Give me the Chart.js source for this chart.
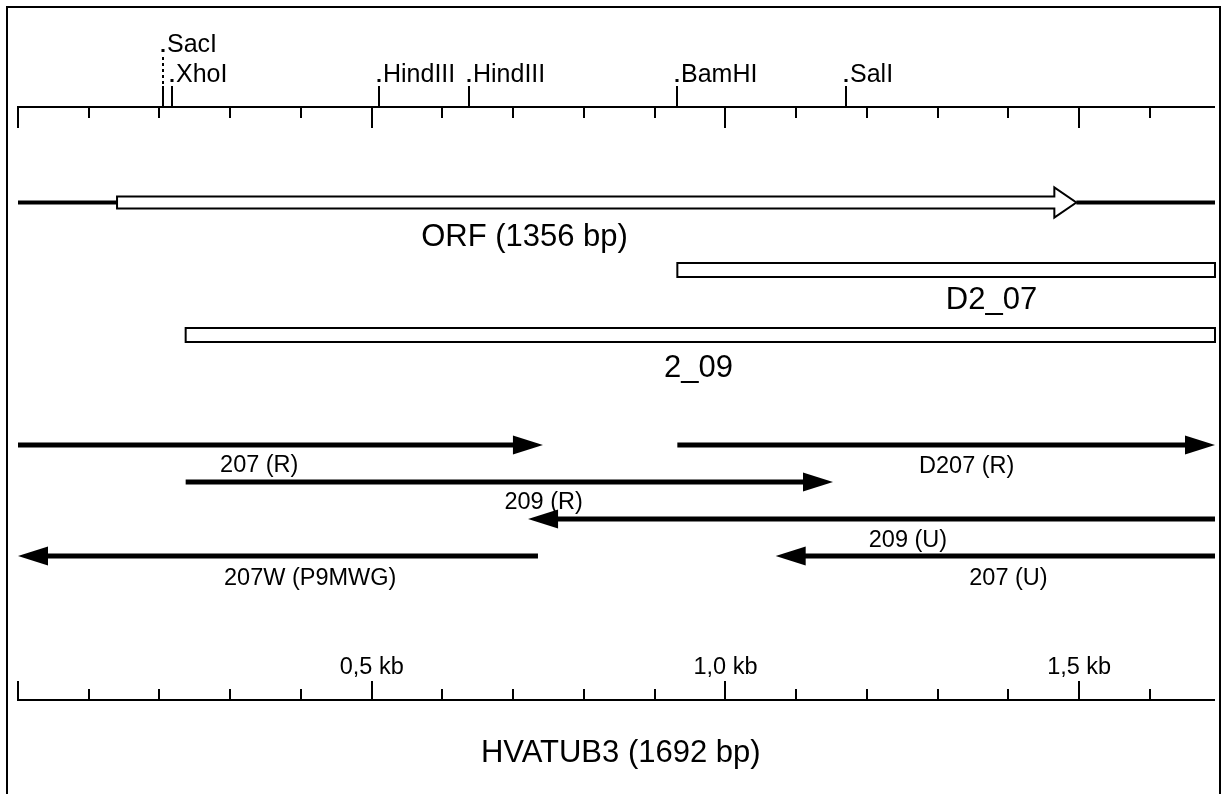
<!DOCTYPE html>
<html><head><meta charset="utf-8">
<script src="https://cdn.jsdelivr.net/npm/chart.js@4/dist/chart.umd.min.js"></script>
<style>html,body{margin:0;padding:0;background:#fff;}canvas{display:block;}</style>
</head><body>
<canvas id="c" width="1227" height="794"></canvas>
<script>
// ---------------- DATA (base pairs) ----------------
const geneLength = 1692;
const geneTitle = "HVATUB3 (1692 bp)";
const siteNames = ["SacI", "XhoI", "HindIII", "HindIII", "BamHI", "SalI"];
const sitePositions = [205, 217, 510, 637, 932, 1171];
const orfStart = 140;
const orfLength = 1356;
const orfLabel = "ORF (1356 bp)";
const cloneNames = ["D2_07", "2_09"];
const cloneStarts = [932, 237];
const cloneEnds = [1692, 1692];
const primerNames = ["207 (R)", "D207 (R)", "209 (R)", "209 (U)", "207W (P9MWG)", "207 (U)"];
const primerFrom = [0, 932, 237, 1692, 735, 1692];
const primerTo = [742, 1692, 1152, 721, 0, 1071];
const rulerMinorTicks = [0, 100, 200, 300, 400, 500, 600, 700, 800, 900, 1000, 1100, 1200, 1300, 1400, 1500, 1600];
const rulerMajorTicks = [0, 500, 1000, 1500];
const rulerTickLabels = ["", "0,5 kb", "1,0 kb", "1,5 kb"];

// ---------------- LAYOUT / STYLE ----------------
const FONT = '"Liberation Sans", Arial, Helvetica, sans-serif';
const INK = '#000000';
const L = {
  padLeft: 18, padRight: 12,
  frame: {x: 7, y: 7, w: 1213, h: 820},
  topRulerY: 107, topMajorLen: 21, topMinorLen: 11,
  bottomRulerY: 700, bottomMajorLen: 19, bottomMinorLen: 11, bottomLabelBaseline: 674,
  siteRowBaseline: [52, 82], siteRow: [0, 1, 1, 1, 1, 1], siteLineTop: 86,
  orfY: 202.5, orfHalf: 6, orfHeadHalf: 15, orfHeadLen: 22,
  orfLabelBp: 716, orfLabelBaseline: 246,
  cloneY: [270, 335], cloneHalf: 7, cloneLabelBp: [1376, 962], cloneLabelBaseline: [309, 377],
  primerY: [445, 445, 482, 519, 556, 556],
  primerLabelBp: [341, 1341, 743, 1258, 413, 1400],
  primerLabelBaseline: [472, 473, 509, 547, 585, 585],
  headLen: 30, headHalf: 9.5, shaftWidth: 5,
  titleBp: 852, titleBaseline: 762,
  fontSite: 25, fontSmall: 23.5, fontBig: 31
};

const geneMap = {
  id: 'geneMap',
  beforeDraw(chart) {
    const ctx = chart.ctx;
    ctx.save();
    ctx.fillStyle = '#fff';
    ctx.fillRect(0, 0, chart.width, chart.height);
    ctx.restore();
  },
  beforeDatasetsDraw(chart) {
    const ctx = chart.ctx, xs = chart.scales.x, ys = chart.scales.y;
    const X = v => xs.getPixelForValue(v), Y = v => ys.getPixelForValue(v);
    ctx.save();
    ctx.strokeStyle = INK; ctx.fillStyle = INK; ctx.lineWidth = 2; ctx.lineCap = 'butt';
    // frame
    ctx.strokeRect(L.frame.x, L.frame.y, L.frame.w, L.frame.h);
    // top ruler
    const ty = Y(L.topRulerY);
    ctx.beginPath(); ctx.moveTo(X(0) - 1, ty); ctx.lineTo(X(geneLength), ty); ctx.stroke();
    rulerMinorTicks.forEach(t => {
      const len = rulerMajorTicks.includes(t) ? L.topMajorLen : L.topMinorLen;
      const x = Math.round(X(t));
      ctx.beginPath(); ctx.moveTo(x, ty); ctx.lineTo(x, ty + len); ctx.stroke();
    });
    // restriction sites
    ctx.font = L.fontSite + 'px ' + FONT; ctx.textAlign = 'left'; ctx.textBaseline = 'alphabetic';
    siteNames.forEach((name, i) => {
      const x = Math.round(X(sitePositions[i]));
      const base = L.siteRowBaseline[L.siteRow[i]];
      ctx.setLineDash([]);
      ctx.beginPath(); ctx.moveTo(x, ty); ctx.lineTo(x, L.siteLineTop); ctx.stroke();
      if (base < L.siteLineTop - 6) {
        ctx.setLineDash([3, 3]);
        ctx.beginPath(); ctx.moveTo(x, L.siteLineTop - 2); ctx.lineTo(x, base + 2); ctx.stroke();
        ctx.setLineDash([]);
      }
      ctx.fillRect(x - 1.5, base - 3, 3, 3);
      ctx.fillText(name, x + 4, base);
    });
    // ORF open arrow
    const oy = Y(L.orfY), x0 = X(orfStart), x1 = X(orfStart + orfLength);
    ctx.beginPath();
    ctx.moveTo(x0, oy - L.orfHalf);
    ctx.lineTo(x1 - L.orfHeadLen, oy - L.orfHalf);
    ctx.lineTo(x1 - L.orfHeadLen, oy - L.orfHeadHalf);
    ctx.lineTo(x1, oy);
    ctx.lineTo(x1 - L.orfHeadLen, oy + L.orfHeadHalf);
    ctx.lineTo(x1 - L.orfHeadLen, oy + L.orfHalf);
    ctx.lineTo(x0, oy + L.orfHalf);
    ctx.closePath();
    ctx.fillStyle = '#fff'; ctx.fill();
    ctx.lineJoin = 'miter'; ctx.stroke();
    // clone boxes
    cloneNames.forEach((n, i) => {
      const cy = Y(L.cloneY[i]);
      const a = X(cloneStarts[i]), b = X(cloneEnds[i]);
      ctx.fillStyle = '#fff';
      ctx.fillRect(a, cy - L.cloneHalf, b - a, 2 * L.cloneHalf);
      ctx.strokeRect(a, cy - L.cloneHalf, b - a, 2 * L.cloneHalf);
    });
    ctx.restore();
  },
  afterDatasetsDraw(chart) {
    const ctx = chart.ctx, xs = chart.scales.x, ys = chart.scales.y;
    const X = v => xs.getPixelForValue(v), Y = v => ys.getPixelForValue(v);
    ctx.save();
    ctx.strokeStyle = INK; ctx.fillStyle = INK;
    // primers: shafts + heads
    primerNames.forEach((n, i) => {
      const y = Y(L.primerY[i]);
      const a = X(primerFrom[i]), b = X(primerTo[i]);
      const d = Math.sign(b - a);
      ctx.lineWidth = L.shaftWidth; ctx.lineCap = 'butt';
      ctx.beginPath(); ctx.moveTo(a, y); ctx.lineTo(b - d * (L.headLen - 4), y); ctx.stroke();
      ctx.beginPath();
      ctx.moveTo(b, y);
      ctx.lineTo(b - d * L.headLen, y - L.headHalf);
      ctx.lineTo(b - d * L.headLen, y + L.headHalf);
      ctx.closePath(); ctx.fill();
    });
    // labels
    ctx.textAlign = 'center'; ctx.textBaseline = 'alphabetic';
    ctx.font = L.fontSmall + 'px ' + FONT;
    primerNames.forEach((n, i) => ctx.fillText(n, X(L.primerLabelBp[i]), L.primerLabelBaseline[i]));
    ctx.font = L.fontBig + 'px ' + FONT;
    ctx.fillText(orfLabel, X(L.orfLabelBp), L.orfLabelBaseline);
    cloneNames.forEach((n, i) => ctx.fillText(n, X(L.cloneLabelBp[i]), L.cloneLabelBaseline[i]));
    ctx.fillText(geneTitle, X(L.titleBp), L.titleBaseline);
    // bottom ruler
    const by = Y(L.bottomRulerY);
    ctx.lineWidth = 2;
    ctx.beginPath(); ctx.moveTo(X(0) - 1, by); ctx.lineTo(X(geneLength), by); ctx.stroke();
    rulerMinorTicks.forEach(t => {
      const len = rulerMajorTicks.includes(t) ? L.bottomMajorLen : L.bottomMinorLen;
      const x = Math.round(X(t));
      ctx.beginPath(); ctx.moveTo(x, by); ctx.lineTo(x, by - len); ctx.stroke();
    });
    ctx.font = L.fontSmall + 'px ' + FONT;
    rulerMajorTicks.forEach((t, i) => {
      if (rulerTickLabels[i]) ctx.fillText(rulerTickLabels[i], X(t), L.bottomLabelBaseline);
    });
    ctx.restore();
  }
};

new Chart(document.getElementById('c'), {
  type: 'line',
  data: {
    datasets: [
      { label: 'genomic 5\'', data: [{x: 0, y: L.orfY}, {x: orfStart, y: L.orfY}] },
      { label: 'genomic 3\'', data: [{x: orfStart + orfLength, y: L.orfY}, {x: geneLength, y: L.orfY}] }
    ].map(d => Object.assign(d, {borderColor: INK, borderWidth: 4, pointRadius: 0, borderCapStyle: 'butt', fill: false}))
  },
  options: {
    responsive: false, animation: false, devicePixelRatio: 1,
    layout: {padding: {left: L.padLeft, right: L.padRight, top: 0, bottom: 0}},
    scales: {
      x: {type: 'linear', min: 0, max: geneLength, display: false},
      y: {type: 'linear', min: 0, max: 794, reverse: true, display: false}
    },
    plugins: {legend: {display: false}, tooltip: {enabled: false}, title: {display: false}}
  },
  plugins: [geneMap]
});
</script>
</body></html>
